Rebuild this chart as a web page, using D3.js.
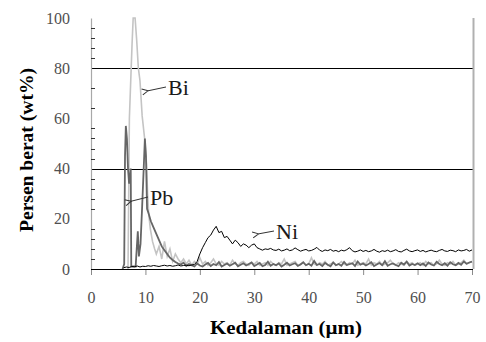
<!DOCTYPE html>
<html>
<head>
<meta charset="utf-8">
<script src="https://cdn.jsdelivr.net/npm/d3@7"></script>
<style>
  body { margin: 0; background: #fff; }
</style>
</head>
<body>
<div id="chart"></div>
<script>
// axis ticks
const xTicks = [0, 10, 20, 30, 40, 50, 60, 70];
const yTicks = [0, 20, 40, 60, 80, 100];
const yMinorTicks = [4, 8, 12, 16, 24, 28, 32, 36, 44, 48, 52, 56, 64, 72, 84, 88, 92, 96];
const gridValues = [40, 80];

// peak region, read point by point: [depth um, wt%]
const biPeak = [[6.8,0],[6.95,35],[7.05,60],[7.3,75],[7.55,90],[7.75,100],[8.1,100],[8.4,91],[8.7,80],[9.0,75],[9.4,61],[9.9,51],[10.2,42],[10.4,30],[10.6,22],[10.9,16],[11.3,11],[11.7,8]];
const pbPeak = [[5.8,0],[6.1,2],[6.25,45],[6.4,57],[6.6,52],[6.8,40],[7.0,34],[7.3,40],[7.35,20],[7.4,1],[8.2,1],[8.6,15],[8.8,5],[9.1,10],[9.4,25],[9.7,41],[9.9,52],[10.1,45],[10.3,24],[10.6,22],[11.0,19],[11.5,16.5]];

// tails sampled every 0.5 um from 12 um
const tailStart = 12, tailStep = 0.5;
const biTail = [6,9,4,11,5,8,3,6,4,
  2.5,4,2,3.5,1.5,3,2,4.5,
  2,3,1.5,2.5,4,2,1.5,3,2,2.5,1.5,3.5,2,1.5,2.5,3,2,1.5,2.5,2,
  3,1.5,2,2.5,1.5,3,2,1.5,2.5,2,4,1.5,2,2.5,3,1.5,2,2.5,1.5,2,
  4.5,2,1.5,2.5,2,3,1.5,2,2.5,1.5,2,3,2,1.5,2.5,2,3.5,1.5,2,2.5,
  2,4,1.5,2.5,2,3,1.5,2,2.5,3.5,2,1.5,2.5,2,1.5,3,2,2.5,1.5,2,
  2.5,1.5,3,2,2.5,1.5,2,3.5,2,1.5,2.5,2,3,1.5,2,2.5,3.5,2,2.5,3];
const pbTail = [14,11.5,9,7.5,6,4.5,3.6,2.8,2.2,
  1.8,2.5,1.2,2,1.5,1,2.2,1.4,
  1,1.8,2.4,1.2,2,1.5,2.8,1,1.6,2.2,1.3,1.9,2.5,1.1,1.7,2.3,1.4,2,2.6,1.2,
  1.8,2.4,1.1,1.6,2.9,1.3,2,1.5,2.2,1,1.7,2.5,1.4,1.9,2.3,1.2,1.8,2.7,1.5,2.1,
  1.3,3.2,1.6,2,1.2,2.4,1.7,1.1,2.6,1.5,2,1.3,2.8,1.6,1.9,2.3,1.2,3,1.7,2.2,
  1.4,2,2.7,1.2,1.8,2.4,1.5,3.1,1.3,1.9,2.2,1.6,1.1,2.5,1.8,2.9,1.4,2,1.6,2.3,
  1.5,2.2,1.2,2.6,1.8,1.4,2.9,2,1.5,2.3,1.3,2.7,1.9,1.5,2.4,1.7,3,2.1,2.6,2.9];

// Ni sampled every 0.5 um from 6 um
const niStart = 6, niStep = 0.5;
const niValues = [0.5,0.8,0.6,1.0,0.9,1.2,0.8,1.1,1.0,1.3,1.1,1.4,1.2,1.0,1.3,1.5,1.2,1.4,1.1,1.3,1.6,1.2,1.4,1.5,1.3,1.6,1.8,
  3,6,8.5,10.5,12.5,13.5,15.5,17.0,14.5,15.0,12.5,13.0,11.5,10.0,11.5,10.5,9.0,10.0,9.5,8.5,9.5,10.0,8.5,8.0,7.5,8.0,
  7.8,8.2,7.6,7.4,7.9,7.2,7.5,8.0,7.3,7.6,8.4,7.7,7.1,7.5,7.8,7.2,7.4,7.9,8.6,7.5,
  7.0,7.6,7.3,7.8,7.1,7.4,6.9,7.5,7.2,7.7,8.5,7.3,6.8,7.1,7.6,7.0,7.4,6.9,7.2,7.8,
  7.1,6.7,7.3,7.0,7.5,6.9,7.2,7.7,7.0,6.8,7.4,7.9,7.2,6.9,7.3,7.6,7.0,7.4,6.8,7.2,
  7.5,7.1,6.9,7.4,7.8,7.2,7.0,7.5,7.3,6.9,7.6,7.2,7.4,7.8,7.1,7.6];

// labels on the curves
const labels = [
  {name: "Bi", at: [10.3, 71], tx: 168, ty: 95},
  {name: "Pb", at: [7.2, 27], tx: 150, ty: 205},
  {name: "Ni", at: [30.6, 14], tx: 276, ty: 239}
];

const serif = '"Liberation Serif", "Times New Roman", serif';
const width = 486, height = 342;
const x = d3.scaleLinear().domain([0, 70]).range([91, 472]);
const y = d3.scaleLinear().domain([0, 100]).range([269, 18]);

const svg = d3.select("#chart")
  .append("svg")
  .attr("width", width)
  .attr("height", height);

// grid lines
svg.selectAll("line.grid")
  .data(gridValues)
  .enter()
  .append("line")
  .attr("x1", x(0)).attr("x2", x(70) + 1)
  .attr("y1", d => Math.round(y(d)) + 0.5).attr("y2", d => Math.round(y(d)) + 0.5)
  .attr("stroke", "#000").attr("stroke-width", 1.2);

// right border
svg.append("line")
  .attr("x1", x(70) + 1.5).attr("x2", x(70) + 1.5)
  .attr("y1", y(100)).attr("y2", y(0))
  .attr("stroke", "#b0b0b0").attr("stroke-width", 2);

// y axis
const yAxis = svg.append("g")
  .attr("transform", "translate(" + x(0) + ",0)")
  .call(d3.axisLeft(y).tickValues(yTicks).tickSize(0).tickPadding(21));
yAxis.attr("font-family", null);
yAxis.select(".domain").attr("stroke", "#a8a8a8").attr("stroke-width", 1.2);
yAxis.selectAll("text").attr("font-size", 16).attr("fill", "#505050")
  .style("font-family", serif);

svg.selectAll("line.minor")
  .data(yMinorTicks)
  .enter()
  .append("line")
  .attr("x1", x(0)).attr("x2", x(0) + 4)
  .attr("y1", d => Math.round(y(d)) + 0.5).attr("y2", d => Math.round(y(d)) + 0.5)
  .attr("stroke", "#333");

// x axis
const xAxis = svg.append("g")
  .attr("transform", "translate(0," + y(0) + ")")
  .call(d3.axisBottom(x).tickValues(xTicks).tickSize(6).tickPadding(17));
xAxis.attr("font-family", null);
xAxis.select(".domain").remove();
xAxis.selectAll(".tick line").attr("stroke", "#8a8a8a");
xAxis.selectAll("text").attr("font-size", 16).attr("fill", "#505050")
  .style("font-family", serif);

const line = d3.line().x(d => x(d[0])).y(d => y(d[1]));

const biData = biPeak.concat(biTail.map((v, i) => [tailStart + i * tailStep, v]));
const pbData = pbPeak.concat(pbTail.map((v, i) => [tailStart + i * tailStep, v]));
const niData = niValues.map((v, i) => [niStart + i * niStep, v]);

svg.append("path").datum(biData).attr("d", line)
  .attr("fill", "none").attr("stroke", "#c4c4c4").attr("stroke-width", 1.6);
svg.append("path").datum(pbData).attr("d", line)
  .attr("fill", "none").attr("stroke", "#666").attr("stroke-width", 1.8);
svg.append("path").datum(niData).attr("d", line)
  .attr("fill", "none").attr("stroke", "#000").attr("stroke-width", 1);

// x axis line on top
svg.append("line")
  .attr("x1", x(0)).attr("x2", x(70) + 1)
  .attr("y1", y(0) + 0.5).attr("y2", y(0) + 0.5)
  .attr("stroke", "#000").attr("stroke-width", 1.2);

// arrows + labels
svg.append("defs").append("marker")
  .attr("id", "head")
  .attr("viewBox", "-1 -4 8 8")
  .attr("refX", 0).attr("refY", 0)
  .attr("markerWidth", 8).attr("markerHeight", 8)
  .attr("markerUnits", "userSpaceOnUse")
  .attr("orient", "auto-start-reverse")
  .append("path")
  .attr("d", "M6,-3 L0,0 L6,3")
  .attr("fill", "none").attr("stroke", "#333").attr("stroke-width", 1);

svg.selectAll("line.arrow")
  .data(labels)
  .enter()
  .append("line")
  .attr("x1", d => x(d.at[0]) + 1).attr("y1", d => y(d.at[1]))
  .attr("x2", d => d.tx - 2).attr("y2", d => d.ty - 8)
  .attr("stroke", "#333").attr("stroke-width", 1)
  .attr("marker-start", "url(#head)");

svg.selectAll("text.lab")
  .data(labels)
  .enter()
  .append("text")
  .attr("x", d => d.tx).attr("y", d => d.ty)
  .attr("font-size", 22).attr("fill", "#1a1a1a")
  .style("font-family", serif)
  .text(d => d.name);

// axis titles
svg.append("text")
  .attr("x", 286).attr("y", 334)
  .attr("text-anchor", "middle")
  .attr("font-size", 18).attr("font-weight", "bold")
  .style("font-family", serif)
  .attr("textLength", 152).attr("lengthAdjust", "spacingAndGlyphs")
  .text("Kedalaman (\u00b5m)");

svg.append("text")
  .attr("transform", "translate(33,150) rotate(-90)")
  .attr("text-anchor", "middle")
  .attr("font-size", 18).attr("font-weight", "bold")
  .style("font-family", serif)
  .attr("textLength", 164).attr("lengthAdjust", "spacingAndGlyphs")
  .text("Persen berat (wt%)");
</script>
</body>
</html>
